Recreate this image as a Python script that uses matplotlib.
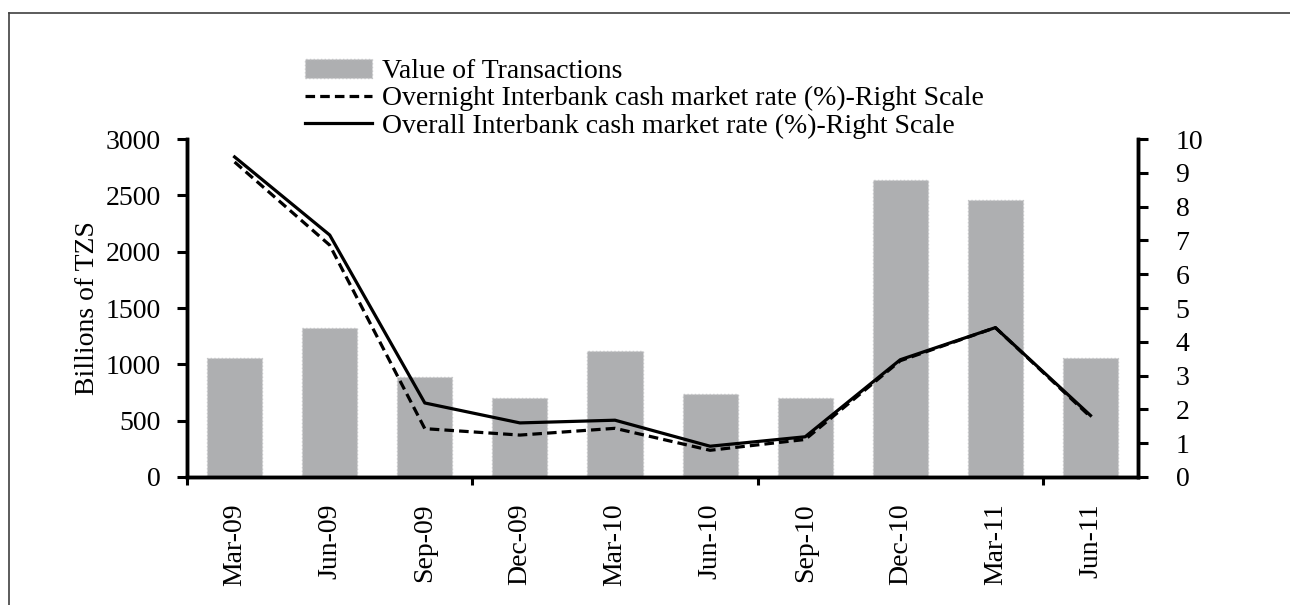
import matplotlib
matplotlib.use("Agg")
import matplotlib.pyplot as plt
import numpy as np
from matplotlib.lines import Line2D

# Data
quarters = ["Mar-09", "Jun-09", "Sep-09", "Dec-09", "Mar-10",
            "Jun-10", "Sep-10", "Dec-10", "Mar-11", "Jun-11"]
value_of_transactions = [1055, 1325, 885, 700, 1120, 738, 705, 2640, 2455, 1060]
overnight_rate = [9.32, 6.86, 1.43, 1.24, 1.44, 0.79, 1.11, 3.44, 4.42, 1.78]
overall_rate = [9.47, 7.16, 2.19, 1.60, 1.68, 0.91, 1.19, 3.47, 4.42, 1.82]

plt.rcParams["font.family"] = ["Liberation Serif", "DejaVu Serif"]
FS = 20

fig = plt.figure(figsize=(12.9, 6.05), dpi=100)
ax = fig.add_axes([0.1450, 0.2116, 0.7372, 0.5586])
ax2 = ax.twinx()

x = np.arange(len(quarters))
bars = ax.bar(x, value_of_transactions, width=0.58, color="#aeafb1",
              edgecolor="#c4c5c7", linewidth=1.0, linestyle=":")
l1, = ax2.plot(x, overnight_rate, color="black", lw=2.3, ls=(0, (3, 1.6)))
l2, = ax2.plot(x, overall_rate, color="black", lw=2.3)

ax.set_xlim(-0.5, len(quarters) - 0.5)
ax.set_ylim(0, 3000)
ax.set_yticks(range(0, 3001, 500))
ax2.set_ylim(0, 10)
ax2.set_yticks(range(0, 11))

# category labels at centres, tick marks every third boundary
ax.set_xticks([-0.5, 2.5, 5.5, 8.5])
ax.set_xticklabels([])
ax.set_xticks(x, minor=True)
ax.set_xticklabels(quarters, minor=True, rotation=90, fontsize=FS)
ax.tick_params(axis="x", which="major", direction="out", length=6, width=2.2)
ax.tick_params(axis="x", which="minor", length=0, pad=19)

ax.tick_params(axis="y", direction="out", length=7, width=2.2, labelsize=FS, pad=12)
ax2.tick_params(axis="y", direction="out", length=7, width=2.2, labelsize=FS, pad=20)

for a in (ax, ax2):
    a.spines["top"].set_visible(False)
    for s in ("left", "right", "bottom"):
        a.spines[s].set_linewidth(2.5)
ax.set_ylabel("Billions of TZS", fontsize=FS, labelpad=4)

handles = [bars, l1, l2]
labels = ["Value of Transactions",
          "Overnight Interbank cash market rate (%)-Right Scale",
          "Overall Interbank cash market rate (%)-Right Scale"]
fig.legend(handles, labels, loc="upper left", bbox_to_anchor=(0.228, 0.921),
           frameon=False, fontsize=FS, handlelength=2.4, handletextpad=0.35,
           labelspacing=0.06, borderaxespad=0)

# partial frame round the figure (top and left)
fig.add_artist(Line2D([0.007, 1.0], [0.979, 0.979], color="#404040", lw=1.2,
                      transform=fig.transFigure))
fig.add_artist(Line2D([0.007, 0.007], [0.0, 0.979], color="#404040", lw=1.2,
                      transform=fig.transFigure))

fig.savefig("out.png", dpi=100)
